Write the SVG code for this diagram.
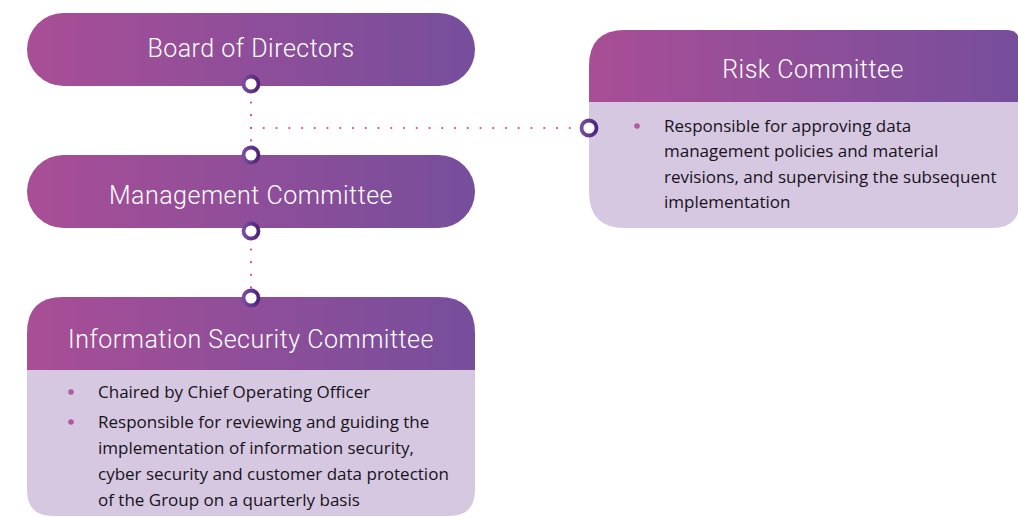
<svg xmlns="http://www.w3.org/2000/svg" width="1018" height="517" viewBox="0 0 1018 517">
<defs>
<linearGradient id="hg" x1="0" y1="0" x2="1" y2="0">
<stop offset="0" stop-color="#a84e96"/>
<stop offset="1" stop-color="#764e9c"/>
</linearGradient>
<linearGradient id="rg" x1="0" y1="0" x2="1" y2="0">
<stop offset="0" stop-color="#7a4ba0"/>
<stop offset="1" stop-color="#4f2479"/>
</linearGradient>
<style>
.h{fill:url(#hg)}
.b{fill:#d6c8e1}
.ht{font-family:Roboto,"Liberation Sans",sans-serif;font-weight:300;font-size:25px;fill:#ffffff;text-anchor:middle;letter-spacing:0.5px}
.bt{font-family:"Open Sans","Liberation Sans",sans-serif;font-size:17px;fill:#17131b}
.bul{fill:#b05a9f}
.dot{stroke:#e2457c;stroke-width:2.2;stroke-linecap:round;fill:none;stroke-dasharray:0 12.6}
.knob{fill:#ffffff;stroke:url(#rg);stroke-width:3.8}
</style>
</defs>
<g id="connectors">
<line class="dot" x1="251" y1="90" x2="251" y2="150"/>
<line class="dot" x1="251" y1="128" x2="578" y2="128" style="stroke-dasharray:0 12.75"/>
<line class="dot" x1="251" y1="237" x2="251" y2="292"/>
</g>
<g id="board">
<rect class="h" x="27" y="13" width="448" height="73" rx="36.5"/>
<text class="ht" x="251" y="57">Board of Directors</text>
</g>
<g id="management">
<rect class="h" x="27" y="155" width="448" height="73" rx="36.5"/>
<text class="ht" x="251" y="204">Management Committee</text>
</g>
<g id="infosec">
<path class="b" d="M27 370 H475 V490 Q475 516 449 516 H53 Q27 516 27 490 Z"/>
<path class="h" d="M27 370 V333 Q27 297 63 297 H439 Q475 297 475 333 V370 Z"/>
<text class="ht" x="251" y="348">Information Security Committee</text>
<circle class="bul" cx="71" cy="392" r="2.8"/>
<text class="bt" x="98" y="398">Chaired by Chief Operating Officer</text>
<circle class="bul" cx="71" cy="422" r="2.8"/>
<text class="bt" x="98" y="428">Responsible for reviewing and guiding the</text>
<text class="bt" x="98" y="454">implementation of information security,</text>
<text class="bt" x="98" y="480">cyber security and customer data protection</text>
<text class="bt" x="98" y="506">of the Group on a quarterly basis</text>
</g>
<g id="risk">
<path class="b" d="M589 102 H1020 V200 Q1020 228 992 228 H625 Q589 228 589 192 Z"/>
<path class="h" d="M589 102 V66 Q589 30 625 30 H1006 Q1020 30 1020 44 V102 Z"/>
<text class="ht" x="813" y="78">Risk Committee</text>
<circle class="bul" cx="637" cy="126" r="2.8"/>
<text class="bt" x="664" y="132">Responsible for approving data</text>
<text class="bt" x="664" y="157">management policies and material</text>
<text class="bt" x="664" y="183">revisions, and supervising the subsequent</text>
<text class="bt" x="664" y="208">implementation</text>
</g>
<g id="knobs">
<circle class="knob" cx="251" cy="84" r="7.5"/>
<circle class="knob" cx="251" cy="155" r="7.5"/>
<circle class="knob" cx="251" cy="231" r="7.5"/>
<circle class="knob" cx="251" cy="298" r="7.5"/>
<circle class="knob" cx="589" cy="128" r="7.5"/>
</g>
</svg>
